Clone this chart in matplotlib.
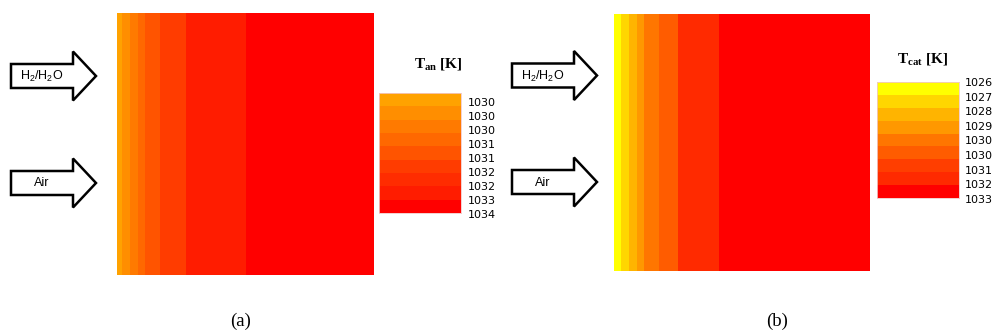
import numpy as np
import matplotlib
matplotlib.use("Agg")
import matplotlib.pyplot as plt
from matplotlib.colors import ListedColormap, BoundaryNorm
from matplotlib.patches import FancyArrow

plt.rcParams['mathtext.fontset'] = 'custom'
plt.rcParams['mathtext.rm'] = 'Liberation Serif'
plt.rcParams['mathtext.bf'] = 'Liberation Serif:bold'
plt.rcParams['mathtext.sf'] = 'Liberation Sans'

# anode temperature field: band edges along cell (fraction of length) and colour level
an_edges = [0, 0.019, 0.051, 0.082, 0.109, 0.167, 0.268, 0.502, 1.0]
an_level = [0, 1, 2, 3, 4, 5, 7, 8]
an_ticks = ['1030', '1030', '1030', '1031', '1031', '1032', '1032', '1033', '1034']
an_colors = ['#ffa200', '#ff8e00', '#ff7a00', '#ff6800', '#ff5400', '#ff3c00',
             '#ff2c00', '#ff1c00', '#ff0000']

# cathode temperature field
cat_edges = [0, 0.027, 0.059, 0.090, 0.117, 0.176, 0.250, 0.410, 1.0]
cat_level = [0, 1, 2, 3, 4, 5, 7, 8]
cat_ticks = ['1026', '1027', '1028', '1029', '1030', '1030', '1031', '1032', '1033']
cat_colors = ['#ffff00', '#ffd600', '#ffb400', '#ff9800', '#ff7600', '#ff5c00',
              '#ff3e00', '#ff2a00', '#ff0000']

W, H = 992, 335
fig = plt.figure(figsize=(W / 100, H / 100), dpi=100)

def px_axes(x0, y0, x1, y1):
    return fig.add_axes([x0 / W, 1 - y1 / H, (x1 - x0) / W, (y1 - y0) / H])

def field(box, edges, level, colors):
    ax = px_axes(*box)
    cmap = ListedColormap(colors)
    norm = BoundaryNorm(np.arange(-0.5, len(colors)), len(colors))
    ax.pcolormesh(edges, [0, 1], np.array(level)[None, :], cmap=cmap, norm=norm)
    ax.set_xlim(0, 1)
    ax.set_ylim(0, 1)
    ax.axis('off')

def cbar(box, colors):
    ax = px_axes(*box)
    cmap = ListedColormap(colors)
    n = len(colors)
    ax.pcolormesh([0, 1], np.arange(n + 1), np.arange(n)[:, None], cmap=cmap,
                  vmin=-0.5, vmax=n - 0.5)
    ax.set_ylim(n, 0)
    ax.set_xlim(0, 1)
    ax.set_xticks([])
    ax.set_yticks([])
    for s in ax.spines.values():
        s.set_color('#f3c8c8')
        s.set_linewidth(0.6)

field((117, 13, 374, 275), an_edges, an_level, an_colors)
field((614, 14, 870, 271), cat_edges, cat_level, cat_colors)
cbar((379, 93, 461, 213), an_colors)
cbar((877, 82, 959, 198), cat_colors)

# overlay in pixel coordinates for arrows and labels
ov = fig.add_axes([0, 0, 1, 1], zorder=5)
ov.set_xlim(0, W)
ov.set_ylim(H, 0)
ov.axis('off')
ov.patch.set_alpha(0)

for x0, yc, txt in [(11, 76, r'H$_\mathsf{2}$/H$_\mathsf{2}$O'), (11, 183, 'Air'),
                    (512, 75.5, r'H$_\mathsf{2}$/H$_\mathsf{2}$O'), (512, 182, 'Air')]:
    ov.add_patch(FancyArrow(x0, yc, 85, 0, width=24, head_width=49, head_length=23,
                            length_includes_head=True, fc='white', ec='black', lw=1.8))
    ov.text(x0 + 31, yc + 0.5, txt, ha='center', va='center', fontsize=9,
            family=['Liberation Sans', 'DejaVu Sans'])

ov.text(438, 65, r'T$_{\mathbf{an}}$ [K]', ha='center', va='center', fontsize=11,
        fontweight='bold', family='Liberation Serif')
ov.text(923, 60, r'T$_{\mathbf{cat}}$ [K]', ha='center', va='center', fontsize=11,
        fontweight='bold', family='Liberation Serif')

for lab, y in zip(an_ticks, np.linspace(103, 215, len(an_ticks))):
    ov.text(468, y, lab, ha='left', va='center', fontsize=8,
            family=['Liberation Sans Narrow', 'DejaVu Sans'])
for lab, y in zip(cat_ticks, np.linspace(83, 200, len(cat_ticks))):
    ov.text(965, y, lab, ha='left', va='center', fontsize=8,
            family=['Liberation Sans Narrow', 'DejaVu Sans'])

ov.text(241, 321, '(a)', ha='center', va='center', fontsize=13.5, family='Liberation Serif')
ov.text(777, 321, '(b)', ha='center', va='center', fontsize=13.5, family='Liberation Serif')

fig.savefig('out.png', dpi=100)
